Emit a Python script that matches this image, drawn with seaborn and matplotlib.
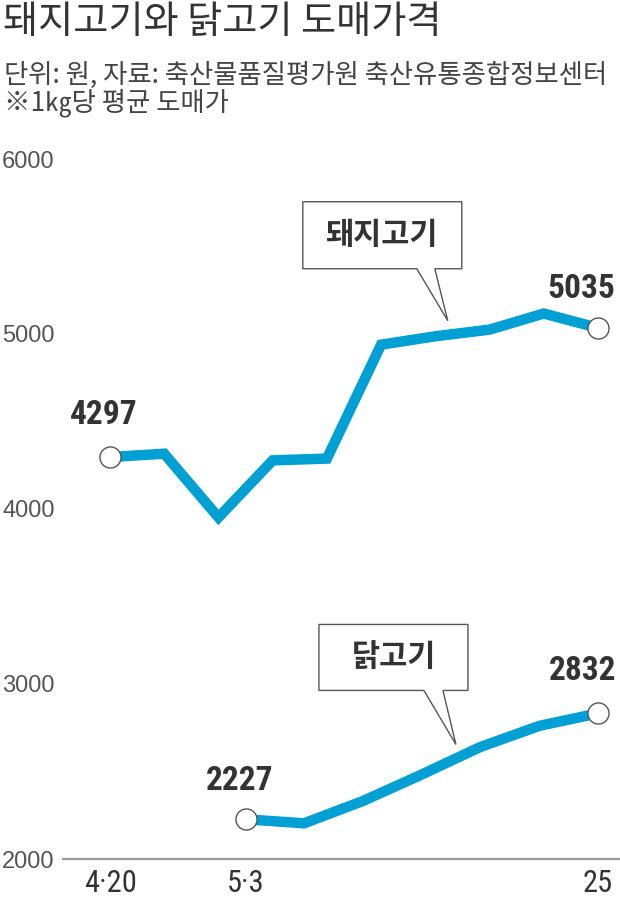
import numpy as np
import pandas as pd
import seaborn as sns
import matplotlib.pyplot as plt
from matplotlib import font_manager
from matplotlib.patches import Polygon
from matplotlib.transforms import ScaledTranslation

# data
pork_x = [0, 1, 2, 3, 4, 5, 6, 7, 8, 9]
pork = [4297, 4316, 3952, 4278, 4288, 4939, 4987, 5025, 5117, 5035]
chicken_x = [2.5, 3.58, 4.67, 5.75, 6.83, 7.92, 9.0]
chicken = [2227, 2204, 2332, 2483, 2640, 2761, 2832]
tick_pos = [0, 2.5, 9]
tick_labels = ['4·20', '5·3', '25']
y_ticks = [2000, 3000, 4000, 5000, 6000]

title = '돼지고기와 닭고기 도매가격'
subtitle1 = '단위: 원, 자료: 축산물품질평가원 축산유통종합정보센터'
subtitle2 = '※1㎏당 평균 도매가'

sns.set_style('white')
plt.rcParams['font.family'] = ['Noto Sans CJK KR', 'DejaVu Sans']

names = {f.name for f in font_manager.fontManager.ttflist}
narrow = 'DejaVu Sans'
for cand in ['Liberation Sans Narrow', 'Roboto Condensed', 'Arial Narrow', 'Liberation Sans']:
    if cand in names:
        narrow = cand
        break

BLUE = '#009fd4'
TXT = '#333333'

fig = plt.figure(figsize=(6.2, 9.01), dpi=100)
ax = fig.add_axes([63 / 620, 1 - 859 / 901, 557 / 620, 700 / 901])

pork_df = pd.DataFrame({'x': pork_x, 'y': pork})
chick_df = pd.DataFrame({'x': chicken_x, 'y': chicken})
for df in (pork_df, chick_df):
    sns.lineplot(data=df, x='x', y='y', ax=ax, color=BLUE, linewidth=7.5,
                 solid_joinstyle='miter', solid_capstyle='butt')
    ends = df.iloc[[0, -1]]
    sns.scatterplot(data=ends, x='x', y='y', ax=ax, s=230, color='white',
                    edgecolor='#555555', linewidth=1.0, zorder=5, clip_on=False)

ax.set_xlim(-0.867, 9.406)
ax.set_ylim(2000, 6000)
ax.set_xlabel('')
ax.set_ylabel('')

ax.set_yticks(y_ticks)
ax.set_yticklabels([str(v) for v in y_ticks], fontsize=17, color='#555555',
                   fontfamily=['Liberation Sans', 'DejaVu Sans'])
ax.tick_params(axis='y', length=0, pad=6)

ax.set_xticks(tick_pos)
ax.set_xticklabels(tick_labels, fontsize=22, color=TXT, fontfamily=narrow)
ax.tick_params(axis='x', direction='in', length=10, width=1.2, color='#888888', pad=7)
ax.xaxis.get_major_ticks()[1].tick1line.set_color('#222222')

sns.despine(ax=ax, left=True)
ax.spines['bottom'].set_color('#999999')
ax.spines['bottom'].set_linewidth(1.6)

# end-point value labels
def value_label(x, y, dx, dy):
    ax.annotate(f'{y}', (x, y), xytext=(dx, dy), textcoords='offset pixels',
                ha='center', va='center', fontsize=24, fontweight='bold',
                color=TXT, fontfamily=narrow)

value_label(pork_x[0], pork[0], -6, 42)
value_label(pork_x[-1], pork[-1], -17, 39)
value_label(chicken_x[0], chicken[0], -6, 38)
value_label(chicken_x[-1], chicken[-1], -15, 42)

# speech-bubble callouts, shape given in pixels relative to the tip
def callout(xs, ys, at, label, shape, text_off):
    ya = np.interp(at, xs, ys)
    trans = fig.dpi_scale_trans + ScaledTranslation(at, ya, ax.transData)
    l, r, b, t, p1, p2 = shape
    verts = np.array([(l, t), (r, t), (r, b), (p2, b), (0, 14), (p1, b), (l, b)]) / 100
    ax.add_patch(Polygon(verts, closed=True, transform=trans, facecolor='white',
                         edgecolor='#555555', linewidth=1.0, zorder=6, clip_on=False))
    ax.text(text_off[0] / 100, text_off[1] / 100, label, transform=trans,
            ha='center', va='center', fontsize=22, fontweight='bold', color=TXT, zorder=7)

callout(pork_x, pork, 6.23, '돼지고기', (-145, 14, 66, 133, -31, -13), (-66, 100))
callout(chicken_x, chicken, 6.38, '닭고기', (-137, 12, 68, 134, -32, -13), (-62, 101))

fig.text(3 / 620, 1 - 3 / 901, title, ha='left', va='top', fontsize=27.5, color=TXT)
fig.text(4 / 620, 1 - 75 / 901, subtitle1, ha='left', va='center', fontsize=19, color='#444444')
fig.text(4 / 620, 1 - 103 / 901, subtitle2, ha='left', va='center', fontsize=19, color='#444444')

fig.savefig('out.png', dpi=100)
